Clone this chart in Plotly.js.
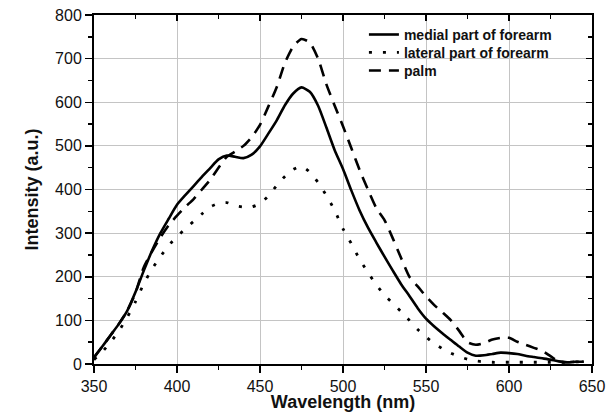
<!DOCTYPE html>
<html>
<head>
<meta charset="utf-8">
<script src="https://cdn.plot.ly/plotly-3.0.1.min.js"></script>
<style>
html,body{margin:0;padding:0;background:#fff;}
#chart{width:613px;height:412px;}
</style>
</head>
<body>
<div id="chart"></div>
<script>
const wavelength = [350,355,360,365,370,375,380,385,390,395,400,405,410,415,420,425,430,435,440,445,450,455,460,465,470,475,480,485,490,495,500,505,510,515,520,525,530,535,540,545,550,555,560,565,570,575,580,585,590,595,600,605,610,615,620,625,630,635,640,645];

const medial = [15,40,66,92,122,165,214,260,300,333,365,387,408,429,449,469,478,475,472,480,499,528,558,593,620,634,624,592,542,490,447,398,352,313,279,246,214,183,156,128,104,86,70,55,40,26,19,20,23,26,25,23,19,16,13,10,6,4,5,5];

const lateral = [10,28,50,76,107,143,184,218,246,272,292,310,327,344,360,368,370,363,360,360,368,385,409,430,446,453,440,416,386,352,310,276,240,210,182,158,139,120,100,79,62,47,35,25,17,11,7,5,4,4,4,4,4,4,4,4,4,4,5,5];

const palm = [15,40,66,92,122,163,222,258,290,318,340,360,378,400,422,450,475,487,500,520,548,590,634,690,728,745,737,700,641,592,545,495,445,400,358,330,288,243,200,178,155,135,118,100,76,50,44,48,56,60,60,51,44,37,30,18,6,4,5,5];

const seriesNames = ['medial part of forearm','lateral part of forearm','palm'];
const xTickVals = [350,400,450,500,550,600,650];
const yTickVals = [0,100,200,300,400,500,600,700,800];

const FONT = 'Liberation Sans, Arial, Helvetica, sans-serif';
const legFont = {family:FONT, size:14, weight:700, color:'#111'};
function leg(y){
  return {x:0.542, y:y, xanchor:'left', yanchor:'middle', bgcolor:'rgba(0,0,0,0)',
          borderwidth:0, font:legFont};
}

const traces = [
  {x: wavelength, y: medial, name: seriesNames[0], type:'scatter', mode:'lines', legend:'legend',
   line:{color:'#000', width:2.6, shape:'spline', smoothing:0.6}},
  {x: wavelength, y: lateral, name: seriesNames[1], type:'scatter', mode:'lines', legend:'legend2',
   line:{color:'#000', width:2.8, shape:'spline', smoothing:0.6, dash:'3px,11px'}},
  {x: wavelength, y: palm, name: seriesNames[2], type:'scatter', mode:'lines', legend:'legend3',
   line:{color:'#000', width:2.6, shape:'spline', smoothing:0.6, dash:'12px,8px'}},
  {x: wavelength, y: medial, xaxis:'x2', yaxis:'y2', type:'scatter', mode:'lines',
   line:{width:0}, opacity:0, showlegend:false, hoverinfo:'skip'}
];

const layout = {
  width:613, height:412,
  margin:{l:94, r:21, t:15, b:48},
  paper_bgcolor:'#fff', plot_bgcolor:'#fff',
  font:{family:FONT, color:'#111', size:16},
  showlegend:true,
  legend: leg(0.943),
  legend2: leg(0.892),
  legend3: leg(0.840),
  shapes:[{type:'rect', xref:'paper', yref:'paper', x0:0.494, x1:1, y0:0.813, y1:1,
    fillcolor:'#fff', line:{width:0}, layer:'between'}],
  xaxis:{range:[350,650], tickvals:xTickVals, ticks:'outside', ticklen:7, tickwidth:1.5, tickcolor:'#000',
    showline:true, linecolor:'#000', linewidth:2, mirror:true,
    showgrid:true, gridcolor:'#c4c4c4', gridwidth:1, zeroline:false,
    minor:{dtick:25, tick0:350, ticks:'outside', ticklen:4, tickwidth:1.5, tickcolor:'#000', showgrid:false},
    tickfont:{family:FONT, size:16, color:'#111'},
    title:{text:'Wavelength (nm)', font:{family:FONT, size:18, weight:700, color:'#111'}, standoff:2},
    fixedrange:true},
  yaxis:{range:[0,800], tickvals:yTickVals, ticks:'outside', ticklen:7, tickwidth:1.5, tickcolor:'#000',
    showline:true, linecolor:'#000', linewidth:2, mirror:true,
    showgrid:true, gridcolor:'#c4c4c4', gridwidth:1, zeroline:false,
    minor:{dtick:50, tick0:0, ticks:'outside', ticklen:4, tickwidth:1.5, tickcolor:'#000', showgrid:false},
    tickfont:{family:FONT, size:16, color:'#111'},
    title:{text:'Intensity (a.u.)', font:{family:FONT, size:18, weight:700, color:'#111'}, standoff:12},
    fixedrange:true},
  xaxis2:{overlaying:'x', side:'top', anchor:'y2', range:[350,650], tickvals:xTickVals,
    ticks:'inside', ticklen:6, tickwidth:1.5, tickcolor:'#000', showticklabels:false,
    showline:false, showgrid:false, zeroline:false,
    minor:{dtick:25, tick0:350, ticks:'inside', ticklen:4, tickwidth:1.5, tickcolor:'#000', showgrid:false},
    fixedrange:true},
  yaxis2:{overlaying:'y', side:'right', anchor:'x2', range:[0,800], tickvals:yTickVals,
    ticks:'inside', ticklen:6, tickwidth:1.5, tickcolor:'#000', showticklabels:false,
    showline:false, showgrid:false, zeroline:false,
    minor:{dtick:50, tick0:0, ticks:'inside', ticklen:4, tickwidth:1.5, tickcolor:'#000', showgrid:false},
    fixedrange:true}
};

Plotly.newPlot('chart', traces, layout, {displayModeBar:false, staticPlot:true});
</script>
</body>
</html>
